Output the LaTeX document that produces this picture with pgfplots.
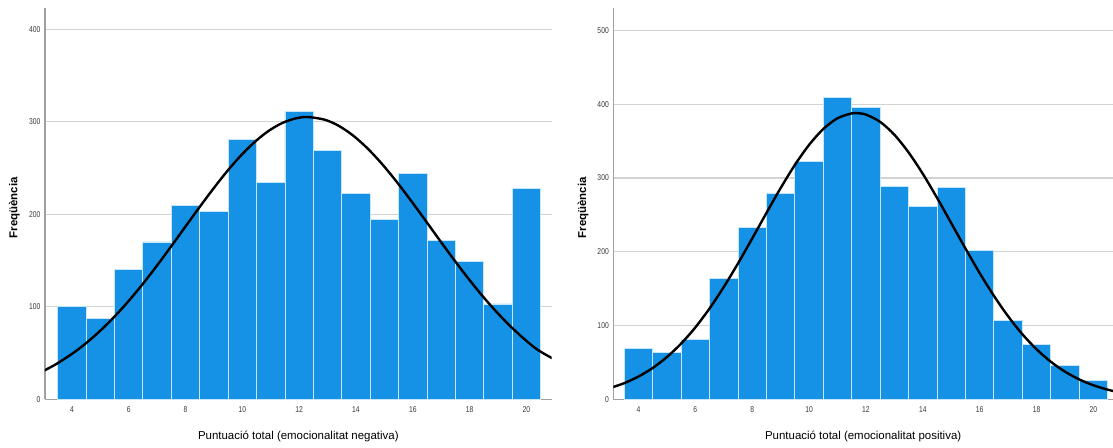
\documentclass[border=0pt]{standalone}
\usepackage{pgfplots}
\pgfplotsset{compat=1.18}
\usepackage{graphicx}
\usepackage{fontspec}
\setmainfont{Liberation Sans}
\definecolor{barblue}{RGB}{21,145,229}
\definecolor{barline}{RGB}{200,230,250}
\definecolor{gridgray}{RGB}{210,210,210}
\definecolor{axisgray}{RGB}{160,160,160}
\definecolor{ticktext}{RGB}{55,55,55}
\pgfplotsset{
  histo/.style={
    scale only axis,
    anchor=south west,
    axis x line=bottom,
    axis y line=left,
    axis line style={-, draw=axisgray, line width=1.1bp},
    major tick length=0pt,
    ymajorgrids,
    grid style={draw=gridgray, line width=1.1bp},
    xtick={4,6,...,20},
    /pgf/number format/assume math mode=true,
    tick label style={font=\fontsize{8.5}{9}\selectfont, text=ticktext},
    xticklabel={\scalebox{0.8}[1]{\pgfmathprintnumber{\tick}}},
    yticklabel={\scalebox{0.8}[1]{\pgfmathprintnumber{\tick}}},
    xticklabel style={yshift=-4bp},
    yticklabel style={xshift=-1bp},
    ymin=0,
    xlabel style={at={(axis description cs:0.5,-0.0957)}, anchor=center, font=\fontsize{11.5}{13}\selectfont},
    ylabel style={at={(axis description cs:-0.0606,0.49)}, rotate=0, anchor=center, font=\fontsize{11.5}{13}\selectfont\bfseries},
  },
  histbars/.style={ybar, bar width=1, bar shift=0pt, fill=barblue, draw=barline, line width=0.9bp},
  normcurve/.style={black, line width=2.4bp, smooth, mark=none},
}
\begin{document}
\begin{tikzpicture}
\useasboundingbox (0,0) rectangle (1113bp,448bp);
% Left histogram
\begin{axis}[histo,
  at={(45bp,48.7bp)}, width=506.7bp, height=391bp,
  xmin=3.053, xmax=20.89, ymax=422.5,
  ytick={0,100,...,400},
  xlabel={Puntuació total (emocionalitat negativa)},
  ylabel={Freqüència}]
\addplot[histbars] coordinates {
(4,100)(5,87)(6,140)(7,170)(8,209)(9,203)(10,281)(11,234)(12,311)
(13,269)(14,222)(15,194)(16,244)(17,172)(18,149)(19,103)(20,228)};
\addplot[normcurve] coordinates {
(2.95,29.9)(3.4,37.2)(3.9,46.9)(4.4,58.2)(4.9,71.3)(5.4,86.2)(5.9,102.8)(6.4,121.0)
(6.9,140.6)(7.4,161.3)(7.9,182.5)(8.4,203.7)(8.9,224.4)(9.4,244.0)(9.9,261.8)
(10.4,277.1)(10.9,289.5)(11.4,298.5)(11.9,303.7)(12.3,305.0)(12.9,302.1)(13.4,295.4)
(13.9,285.0)(14.4,271.3)(14.9,254.9)(15.4,236.3)(15.9,216.2)(16.4,195.2)(16.9,173.9)
(17.4,152.9)(17.9,132.7)(18.4,113.6)(18.9,96.0)(19.4,80.0)(19.9,65.8)(20.4,53.4)(21.0,42.8)};
\end{axis}
% Right histogram
\begin{axis}[histo,
  at={(613.3bp,48.7bp)}, width=499.7bp, height=391bp,
  xmin=3.113, xmax=20.69, ymax=530,
  ytick={0,100,...,500},
  xlabel={Puntuació total (emocionalitat positiva)},
  ylabel={Freqüència}]
\addplot[histbars] coordinates {
(4,69)(5,63)(6,81)(7,164)(8,233)(9,279)(10,322)(11,409)(12,395)
(13,289)(14,262)(15,287)(16,202)(17,107)(18,74)(19,46)(20,25)};
\addplot[normcurve] coordinates {
(3.0,15.3)(3.5,21.9)(4,30.9)(4.5,42.5)(5,57.3)(5.5,75.6)(6,97.5)(6.5,123.2)(7,152.3)
(7.5,184.2)(8,218.1)(8.5,252.6)(9,286.4)(9.5,317.7)(10,344.9)(10.5,366.4)(11,381.0)
(11.5,387.6)(11.65,388.0)(12,385.9)(12.5,376.0)(13,358.6)(13.5,334.6)(14,305.6)
(14.5,273.1)(15,238.8)(15.5,204.4)(16,171.1)(16.5,140.3)(17,112.5)(17.5,88.3)
(18,67.8)(18.5,51.0)(19,37.5)(19.5,27.0)(20,19.0)(20.5,13.1)(20.8,10.4)};
\end{axis}
\end{tikzpicture}
\end{document}
